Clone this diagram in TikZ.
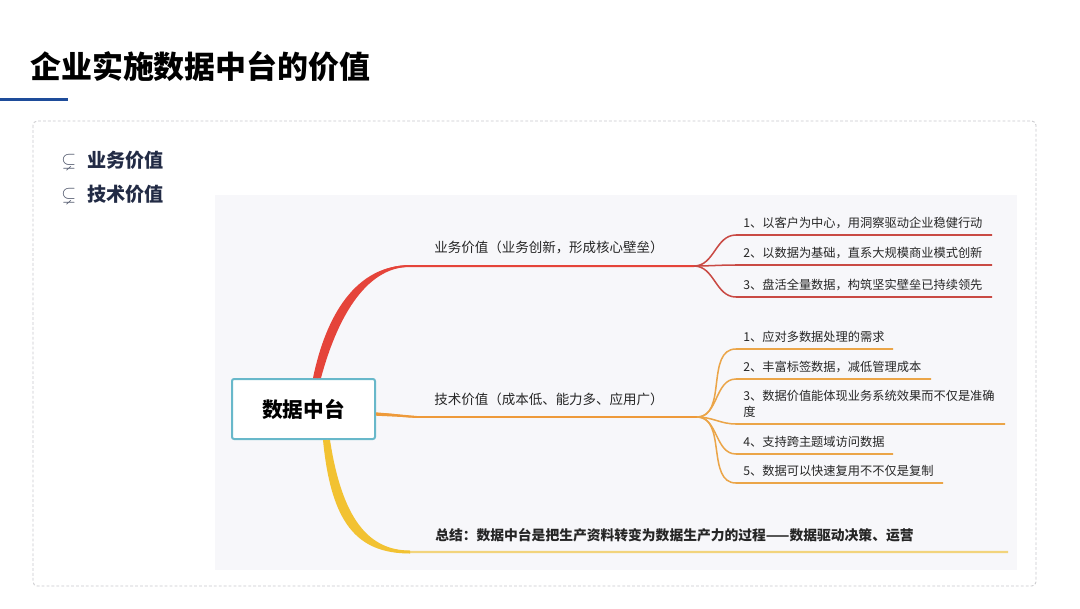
\documentclass[tikz,border=0pt]{standalone}
\usepackage{amssymb}
\usepackage{fontspec}
\setmainfont{Noto Sans CJK SC}
\usetikzlibrary{calc}
\definecolor{inkblue}{HTML}{1E4C9A}
\definecolor{frame}{HTML}{C9C9CC}
\definecolor{paper}{HTML}{F7F7FA}
\definecolor{hubline}{HTML}{68B8CA}
\definecolor{txt}{HTML}{262626}
\definecolor{bullet}{HTML}{222B45}
\definecolor{redbr}{HTML}{E5443A}
\definecolor{redleaf}{HTML}{C94A44}
\definecolor{orgbr}{HTML}{EE9A3A}
\definecolor{orgleaf}{HTML}{EBA548}
\definecolor{yelbr}{HTML}{F2C232}
\definecolor{yelleaf}{HTML}{F2D47C}
\tikzset{
  ttl/.style={anchor=base west, inner sep=0pt, font=\fontsize{22}{26}\selectfont\bfseries, text=black},
  bul/.style={anchor=base west, inner sep=0pt, font=\fontsize{13.6}{16}\selectfont\bfseries, text=bullet},
  hubbox/.style={rectangle, rounded corners=1.5pt, draw=hubline, line width=0.5mm, fill=white,
                 minimum width=35.75mm, minimum height=15mm, font=\fontsize{14.7}{17}\selectfont\bfseries, text=black},
  brlbl/.style={anchor=base west, inner sep=0pt, font=\fontsize{9.6}{12}\selectfont, text=txt},
  sumlbl/.style={brlbl, font=\fontsize{9.8}{12}\selectfont\bfseries},
  leaf/.style={anchor=base west, inner sep=0pt, align=left, font=\fontsize{8.7}{11.4}\selectfont, text=txt},
  redline/.style={draw=redbr, line width=0.5mm},
  redtwig/.style={draw=redleaf, line width=0.38mm},
  orgline/.style={draw=orgbr, line width=0.45mm},
  orgtwig/.style={draw=orgleaf, line width=0.38mm},
  yelline/.style={draw=yelleaf, line width=0.6mm}
}

\begin{document}
\begin{tikzpicture}[x=0.25mm, y=-0.25mm]
 \useasboundingbox[fill=white] (0,0) rectangle (1080,608);
 % header
 \node[ttl] (title) at (30,78) {企业实施数据中台的价值};
 \fill[inkblue] (0,97.5) rectangle (68,101);
 \draw[frame, line width=0.6pt, dash pattern=on 2pt off 1.5pt, rounded corners=3pt] (33,121) rectangle (1036,586);
 \node[bul, text=bullet!80] (s1) at (61,166) {$\subsetneq$};
 \node[bul] (b1) at (87,167.5) {业务价值};
 \node[bul, text=bullet!80] (s2) at (61,200) {$\subsetneq$};
 \node[bul] (b2) at (87,201.5) {技术价值};
 % mind map
 \fill[paper] (215,195) rectangle (1017,570);
 \node[hubbox] (hub) at (303.5,409) {数据中台};
 \coordinate (fr) at (694,266);
 \coordinate (fo) at (697,417);
 \coordinate (ye) at (1008,552);

 \draw[redline] ($(hub.north)+(13.5,0)$) .. controls (330,315) and (360,266) .. (410,266) -- (fr);
 \fill[redbr] ($(hub.north)+(9.5,0)$) .. controls (326,315) and (356,265) .. (410,265.2)
   -- (410,266.8) .. controls (364,267) and (336,322) .. ($(hub.north)+(17.5,0)$) -- cycle;
 \draw[orgline] ($(hub.east)+(0,5)$) .. controls (398,414) and (400,417) .. (420,417) -- (fo);
 \fill[orgbr] ($(hub.east)+(0,3.3)$) -- (419,416.2) -- (419,417.8) -- ($(hub.east)+(0,6.7)$) -- cycle;
 \draw[yelline] ($(hub.south)+(23,0)$) .. controls (336,520) and (362,552) .. (410,552) -- (ye);
 \fill[yelbr] ($(hub.south)+(19.5,0)$) .. controls (331,522) and (356,553.5) .. (410,553.5)
   -- (410,550.5) .. controls (368,550.5) and (342,518) .. ($(hub.south)+(26.5,0)$) -- cycle;

 \node[brlbl] (biz) at (434,252) {业务价值（业务创新，形成核心壁垒）};
 \node[brlbl] (tech) at (434,404) {技术价值（成本低、能力多、应用广）};
 \node[sumlbl] (sum) at (435,540.5) {总结：数据中台是把生产资料转变为数据生产力的过程——数据驱动决策、运营};

 \foreach \y/\e/\t [count=\i] in {235/992/{1、以客户为中心，用洞察驱动企业稳健行动},
     265/992/{2、以数据为基础，直系大规模商业模式创新},
     297/992/{3、盘活全量数据，构筑坚实壁垒已持续领先}}{
   \node[leaf] (r\i) at (743,\y-7.5) {\t};
   \draw[redtwig] (fr) to[out=0,in=180] (736,\y) -- (\e,\y);
 }
 \foreach \y/\e/\t [count=\i] in {349/893/{1、应对多数据处理的需求},
     379/931/{2、丰富标签数据，减低管理成本},
     424/1005/{3、数据价值能体现业务系统效果而不仅是准确\\度},
     454/893/{4、支持跨主题域访问数据},
     483/943/{5、数据可以快速复用不不仅是复制}}{
   \node[leaf] (o\i) at (743,\y-7.5) {\t};
   \draw[orgtwig] (fo) to[out=0,in=180] (736,\y) -- (\e,\y);
 }
\end{tikzpicture}
\end{document}
